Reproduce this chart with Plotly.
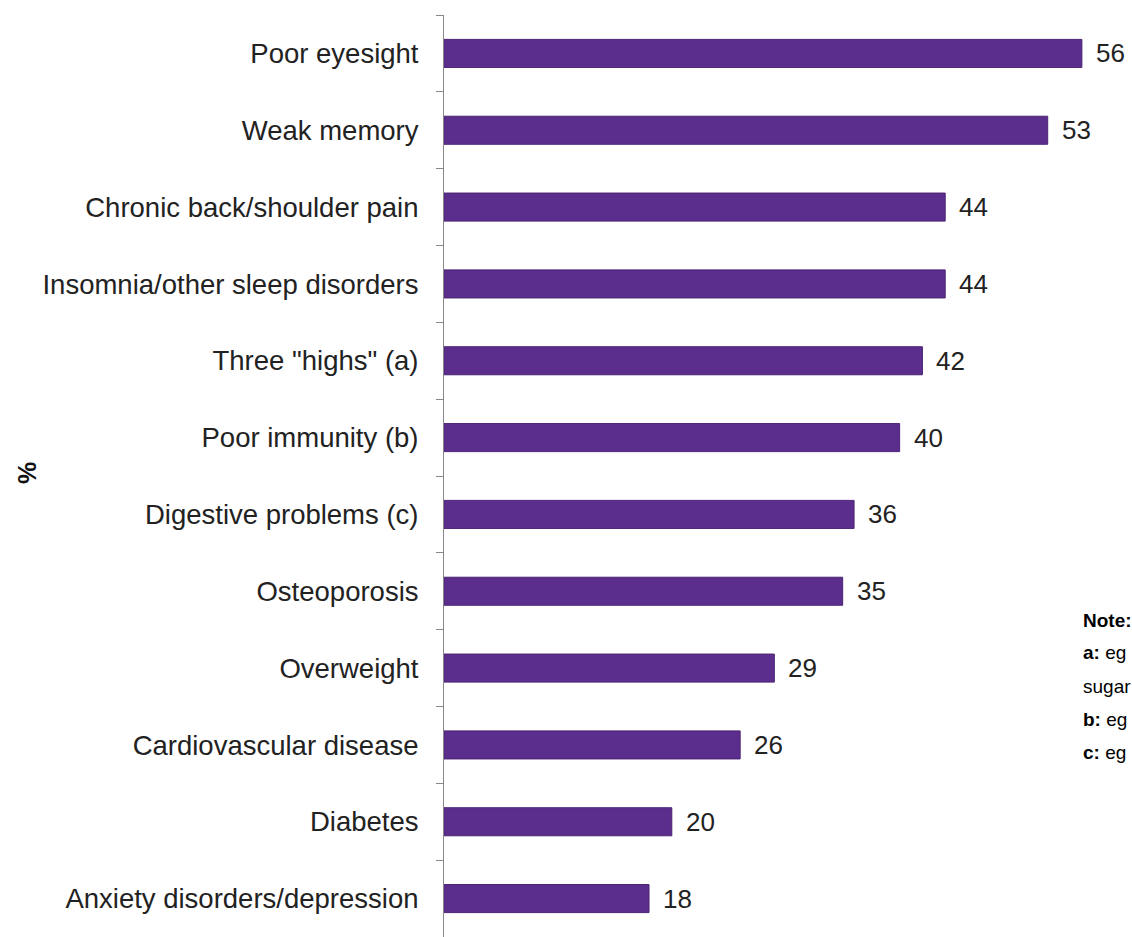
import plotly.graph_objects as go

categories = [
    "Poor eyesight",
    "Weak memory",
    "Chronic back/shoulder pain",
    "Insomnia/other sleep disorders",
    'Three "highs" (a)',
    "Poor immunity (b)",
    "Digestive problems (c)",
    "Osteoporosis",
    "Overweight",
    "Cardiovascular disease",
    "Diabetes",
    "Anxiety disorders/depression",
]
values = [56, 53, 44, 44, 42, 40, 36, 35, 29, 26, 20, 18]
note_lines = ["<b>Note:</b>", "<b>a:</b> eg", "sugar", "<b>b:</b> eg", "<b>c:</b> eg"]

W, H = 1132, 937
L, R, T, B = 444, 0, 15, 0
x_max = 60.4
PW, PH = W - L - R, H - T - B

fig = go.Figure()
fig.add_trace(go.Bar(
    x=values, y=categories, orientation="h",
    marker=dict(color="#5b2e8e", line=dict(color="#4a2474", width=1)),
    width=0.365, hoverinfo="x+y",
))

for c, v in zip(categories, values):
    fig.add_annotation(x=v, y=c, xref="x", yref="y", text=str(v),
                       showarrow=False, xanchor="left", yanchor="middle",
                       xshift=12,
                       font=dict(family="Liberation Sans, Arial", size=26, color="#222"))

fig.add_annotation(x=(27 - L) / PW, y=(H - 473 - B) / PH, xref="paper", yref="paper",
                   xanchor="center", yanchor="middle",
                   text="<b>%</b>", textangle=-90, showarrow=False,
                   font=dict(family="Liberation Sans, Arial", size=25, color="#111"))

for i, line in enumerate(note_lines):
    ypix = 620 + 33 * i
    fig.add_annotation(x=(1081 - L) / PW, y=(H - ypix - B) / PH,
                       xref="paper", yref="paper", xanchor="left", yanchor="middle",
                       align="left", showarrow=False, text=line,
                       font=dict(family="Liberation Sans, Arial", size=19, color="#000"))

fig.update_layout(
    width=W, height=H,
    margin=dict(l=L, r=R, t=T, b=B),
    paper_bgcolor="white", plot_bgcolor="white",
    showlegend=False,
    xaxis=dict(range=[0, x_max], visible=False),
    yaxis=dict(
        categoryorder="array", categoryarray=categories, autorange="reversed",
        showline=True, linecolor="#888", linewidth=1,
        ticks="outside", tickson="boundaries", ticklen=7, tickcolor="#888",
        ticklabelstandoff=19,
        tickfont=dict(family="Liberation Sans, Arial", size=27.5, color="#222"),
        showgrid=False, zeroline=False,
    ),
)

fig.write_html(
    "out.html",
    config={"displayModeBar": False},
    post_script="document.body.style.margin='0';document.body.style.overflow='hidden';",
)
